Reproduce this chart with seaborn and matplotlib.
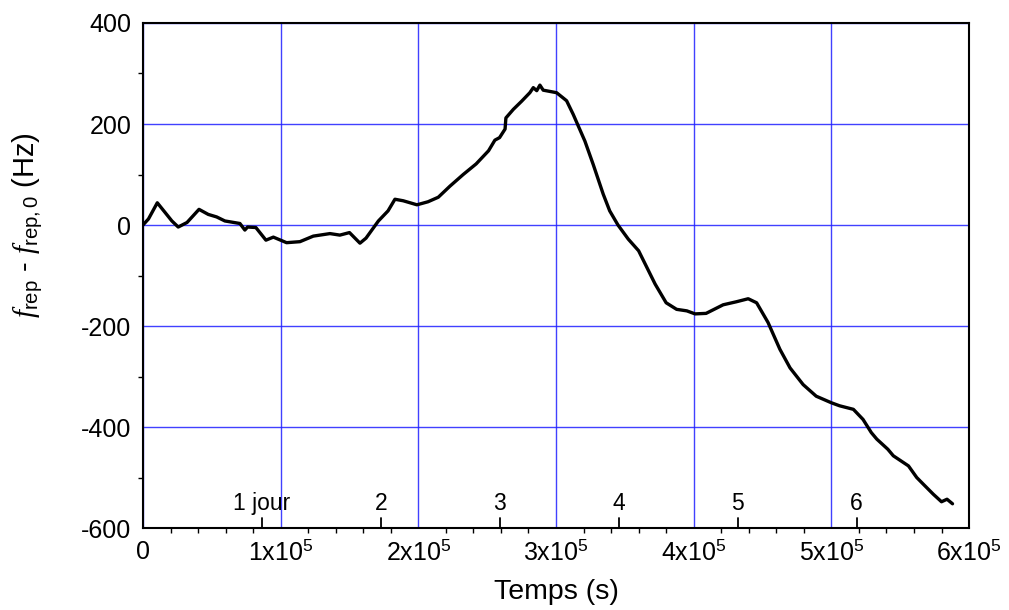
import numpy as np
import pandas as pd
import matplotlib
matplotlib.use('Agg')
import matplotlib.pyplot as plt
import matplotlib.transforms as mtransforms
from matplotlib.ticker import MultipleLocator
import seaborn as sns

# time (s) and repetition-rate drift (Hz)
temps = [0, 4e3, 1.04e4, 1.6e4, 2.1e4, 2.56e4, 3.2e4, 4.07e4, 4.74e4, 5.35e4, 5.95e4,
         7.04e4, 7.4e4, 7.6e4, 8.2e4, 8.93e4, 9.47e4, 1.043e5, 1.14e5, 1.237e5,
         1.358e5, 1.43e5, 1.50e5, 1.576e5, 1.62e5, 1.71e5, 1.78e5, 1.83e5, 1.89e5,
         1.99e5, 2.07e5, 2.145e5, 2.23e5, 2.326e5, 2.42e5, 2.51e5, 2.556e5, 2.59e5,
         2.63e5, 2.636e5, 2.69e5, 2.75e5, 2.81e5, 2.835e5, 2.86e5, 2.883e5, 2.907e5,
         3.004e5, 3.05e5, 3.077e5, 3.125e5, 3.21e5, 3.27e5, 3.343e5, 3.39e5, 3.45e5,
         3.525e5, 3.60e5, 3.66e5, 3.72e5, 3.80e5, 3.876e5, 3.95e5, 4.01e5, 4.09e5,
         4.214e5, 4.31e5, 4.396e5, 4.457e5, 4.54e5, 4.626e5, 4.70e5, 4.795e5, 4.89e5,
         5.0e5, 5.06e5, 5.16e5, 5.23e5, 5.29e5, 5.33e5, 5.41e5, 5.45e5, 5.56e5,
         5.62e5, 5.667e5, 5.74e5, 5.80e5, 5.84e5, 5.88e5]
delta_f = [0, 12, 44, 25, 8, -4, 5, 31, 21, 16, 8,
           3, -10, -4, -5, -30, -24, -35, -33, -22,
           -17, -20, -15, -36, -26, 8, 28, 51, 48,
           40, 46, 55, 77, 100, 121, 147, 168, 173,
           190, 212, 229, 245, 262, 272, 266, 277, 267,
           262, 252, 246, 219, 166, 120, 61, 28, 0,
           -28, -51, -84, -117, -154, -167, -170, -176, -175,
           -158, -152, -146, -154, -193, -246, -283, -316, -339,
           -352, -358, -365, -385, -411, -424, -444, -457, -477,
           -500, -513, -533, -548, -543, -552]

jours = [1, 2, 3, 4, 5, 6]
jour_labels = ['1 jour', '2', '3', '4', '5', '6']
xtick_vals = [0, 1e5, 2e5, 3e5, 4e5, 5e5, 6e5]
xtick_labels = ['0', r'1x10$^{5}$', r'2x10$^{5}$', r'3x10$^{5}$',
                r'4x10$^{5}$', r'5x10$^{5}$', r'6x10$^{5}$']

df = pd.DataFrame({'temps': temps, 'df': delta_f})

sns.set_style('white')
plt.rcParams['font.family'] = ['Liberation Sans', 'DejaVu Sans']
plt.rcParams['axes.unicode_minus'] = False
plt.rcParams['text.color'] = 'black'
plt.rcParams['axes.labelcolor'] = 'black'
plt.rcParams['xtick.color'] = 'black'
plt.rcParams['ytick.color'] = 'black'
plt.rcParams['mathtext.fontset'] = 'custom'
plt.rcParams['mathtext.rm'] = 'Liberation Sans'
plt.rcParams['mathtext.it'] = 'Liberation Serif:italic'

fig = plt.figure(figsize=(10.09, 6.10), dpi=100)
ax = fig.add_axes([0.1417, 0.1344, 0.8187, 0.8279])

sns.lineplot(data=df, x='temps', y='df', color='black', linewidth=2.4, ax=ax)

ax.set_xlim(0, 6e5)
ax.set_ylim(-600, 400)
ax.set_xticks(xtick_vals)
ax.set_xticklabels(xtick_labels)
ax.set_yticks([-600, -400, -200, 0, 200, 400])
ax.xaxis.set_minor_locator(MultipleLocator(2e4))
ax.yaxis.set_minor_locator(MultipleLocator(100))

ax.grid(True, which='major', color='#2020ff', linewidth=1.0, alpha=0.85)
ax.set_axisbelow(True)

for s in ax.spines.values():
    s.set_color('black')
    s.set_linewidth(1.5)

ax.tick_params(which='major', direction='out', length=5.5, width=1.3,
               labelsize=18, top=False, right=False, pad=3)
ax.tick_params(which='minor', direction='out', length=3.5, width=1.0,
               top=False, right=False, bottom=True, left=True)

ax.set_xlabel('Temps (s)', fontsize=20.5)
ax.xaxis.set_label_coords(0.5, -0.1)
ax.set_ylabel(r'$f_{\mathrm{rep}}$ - $f_{\mathrm{rep,0}}$ (Hz)', fontsize=21)
ax.yaxis.set_label_coords(-0.118, 0.6)

# day markers
trans = mtransforms.blended_transform_factory(ax.transData, ax.transAxes)
for j, lab in zip(jours, jour_labels):
    ax.plot([j * 86400, j * 86400], [0, 0.02], color='black', lw=1.3,
            transform=trans, clip_on=False)
    ax.text(j * 86400, 0.026, lab, transform=trans, ha='center', va='bottom',
            fontsize=16.5)

fig.savefig('out.png', dpi=100)
